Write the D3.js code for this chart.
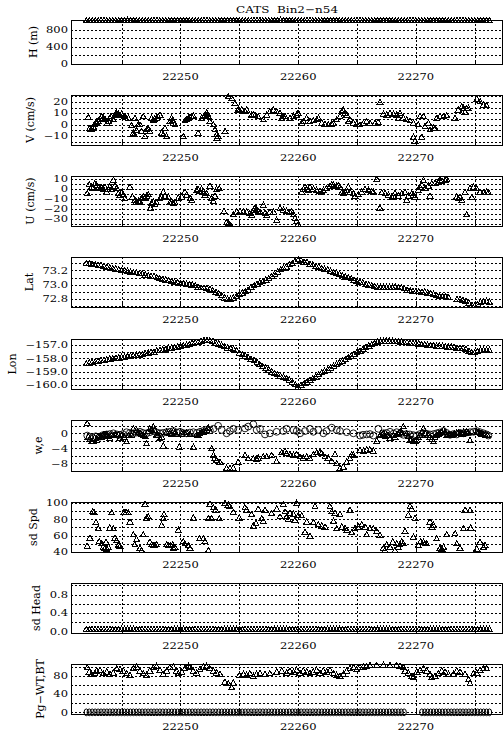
<!DOCTYPE html>
<html>
<head>
<meta charset="utf-8">
<script src="https://cdnjs.cloudflare.com/ajax/libs/d3/7.8.5/d3.min.js"></script>
<style>
  body { margin: 0; background: #fff; }
  text { font-family: "DejaVu Serif", serif; fill: #000; }
</style>
</head>
<body>
<div id="chart"></div>
<script>
// times are days after t0
const t0 = 22240;
const chartTitle = "CATS  Bin2\u2212n54";
const xTicks = [22250, 22260, 22270];
const xGrid = [22245, 22250, 22255, 22260, 22265, 22270, 22275];

// regular sampling used by the dense track panels
const tGrid = [2,2.25,2.5,2.75,3,3.25,3.5,3.75,
  4,4.25,4.5,4.75,5,5.25,5.5,5.75,
  6,6.25,6.5,6.75,7,7.25,7.5,7.75,
  8,8.25,8.5,8.75,9,9.25,9.5,9.75,
  10,10.25,10.5,10.75,11,11.25,11.5,11.75,
  12,12.25,12.5,12.75,13,13.25,13.5,13.75,
  14,14.25,14.5,14.75,15,15.25,15.5,15.75,
  16,16.25,16.5,16.75,17,17.25,17.5,17.75,
  18,18.25,18.5,18.75,19,19.25,19.5,19.75,
  20,20.25,20.5,20.75,21,21.25,21.5,21.75,
  22,22.25,22.5,22.75,23,23.25,23.5,23.75,
  24,24.25,24.5,24.75,25,25.25,25.5,25.75,
  26,26.25,26.5,26.75,27,27.25,27.5,27.75,
  28,28.25,28.5,28.75,29,29.25,29.5,29.75,
  30,30.25,30.5,30.75,31,31.25,31.5,31.75,
  32,32.25,32.5,32.75,33,33.25,33.5,33.75,
  34,34.25,34.5,34.75,35,35.25,35.5,35.75,
  36,36.25];

const hVals = [1018,1017,1019,1018,1016,1018,1019,1017,
  1018,1019,1017,1018,1018,1016,1018,1019,
  1017,1018,1019,1018,1017,1018,1016,1018,
  1019,1018,1017,1018,1019,1018,1017,1018,
  1018,1017,1019,1018,1016,1018,1019,1017,
  1018,1019,1017,1018,1018,1016,1018,1019,
  1017,1016,1018,1017,1016,1018,1017,1018,
  1018,1019,1017,1018,1019,1018,1017,1018,
  1018,1017,1019,1018,1016,1018,1019,1017,
  1018,1019,1017,1018,1018,1016,1018,1019,
  1017,1018,1019,1018,1017,1018,1016,1018,
  1019,1018,1017,1018,1019,1018,1017,1018,
  1018,1017,1019,1018,1016,1018,1019,1017,
  1018,1019,1017,1018,1018,1016,1018,1019,
  1017,1018,1019,1018,1017,1018,1016,1018,
  1019,1018,1017,1018,1016,1017,1018,1018,
  1018,1017,1019,1018,1016,1018,1019,1017,
  1018,1018];

const latVals = [73.30,73.30,73.29,73.28,73.27,73.27,73.26,73.25,
  73.24,73.23,73.22,73.21,73.20,73.20,73.19,73.18,
  73.17,73.17,73.16,73.16,73.14,73.13,73.12,73.12,
  73.10,73.09,73.08,73.07,73.06,73.05,73.04,73.03,
  73.02,73.02,73.01,73.01,73.00,72.99,72.97,72.96,
  72.96,72.95,72.94,72.92,72.90,72.88,72.85,72.82,
  72.80,72.80,72.82,72.84,72.87,72.89,72.91,72.93,
  72.97,72.99,73.01,73.03,73.05,73.07,73.09,73.12,
  73.15,73.18,73.21,73.23,73.25,73.28,73.30,73.33,
  73.35,73.34,73.32,73.31,73.29,73.28,73.26,73.25,
  73.23,73.22,73.21,73.19,73.17,73.16,73.15,73.13,
  73.11,73.10,73.09,73.07,73.05,73.04,73.03,73.01,
  73.00,72.99,72.98,72.97,72.97,72.97,72.97,72.97,
  72.97,72.97,72.96,72.96,72.95,72.93,72.92,72.91,
  72.91,72.91,72.90,72.90,72.89,72.88,72.87,72.85,
  72.84,72.84,72.84,72.83,null,null,72.80,72.80,
  72.79,72.77,72.75,72.72,72.71,72.73,72.76,72.77,
  72.77,72.76];

const lonVals = [-158.38,-158.33,-158.28,-158.24,-158.18,-158.15,-158.12,-158.08,
  -158.02,-158.00,-157.97,-157.95,-157.90,-157.88,-157.86,-157.83,
  -157.78,-157.75,-157.72,-157.70,-157.60,-157.57,-157.55,-157.50,
  -157.40,-157.38,-157.35,-157.30,-157.22,-157.20,-157.18,-157.12,
  -157.05,-157.04,-157.00,-156.95,-156.85,-156.80,-156.76,-156.70,
  -156.64,-156.62,-156.66,-156.70,-156.82,-156.90,-157.00,-157.10,
  -157.20,-157.25,-157.30,-157.40,-157.60,-157.70,-157.80,-157.90,
  -158.05,-158.15,-158.30,-158.45,-158.60,-158.70,-158.85,-159.00,
  -159.12,-159.20,-159.30,-159.40,-159.50,-159.60,-159.78,-159.95,
  -160.12,-160.00,-159.88,-159.75,-159.62,-159.50,-159.38,-159.20,
  -159.05,-158.95,-158.85,-158.70,-158.55,-158.43,-158.30,-158.18,
  -158.05,-157.92,-157.80,-157.68,-157.55,-157.42,-157.30,-157.15,
  -157.05,-156.95,-156.85,-156.75,-156.70,-156.68,-156.67,-156.68,
  -156.70,-156.70,-156.72,-156.75,-156.80,-156.80,-156.84,-156.86,
  -156.88,-156.90,-156.93,-156.96,-157.00,-157.02,-157.03,-157.05,
  -157.05,-157.08,-157.10,-157.12,-157.13,-157.15,-157.20,-157.20,
  -157.22,-157.30,-157.45,-157.55,-157.55,-157.45,-157.38,-157.38,
  -157.38,-157.38];

const sdHeadVals = [0.05,0.05,0.05,0.05,0.05,0.05,0.05,0.05, 0.05,0.05,0.05,0.05,0.05,0.05,0.05,0.05,
  0.05,0.05,0.05,0.05,0.05,0.05,0.05,0.05, 0.05,0.05,0.05,0.05,0.05,0.05,0.05,0.05,
  0.05,0.05,0.05,0.05,0.05,0.05,0.05,0.05, 0.05,0.05,0.05,0.05,0.05,0.05,0.05,0.05,
  0.05,0.05,0.05,0.05,0.05,0.05,0.05,0.05, 0.05,0.05,0.05,0.05,0.05,0.05,0.05,0.05,
  0.05,0.05,0.05,0.05,0.05,0.05,0.05,0.05, 0.05,0.05,0.05,0.05,0.05,0.05,0.05,0.05,
  0.05,0.05,0.05,0.05,0.05,0.05,0.05,0.05, 0.05,0.05,0.05,0.05,0.05,0.05,0.05,0.05,
  0.05,0.05,0.05,0.05,0.05,0.05,0.05,0.05, 0.05,0.05,0.05,0.05,0.05,0.05,0.05,0.05,
  0.05,0.05,0.05,0.05,0.05,0.05,0.05,0.05, 0.05,0.05,0.05,0.05,0.05,0.05,0.05,0.05,
  0.05,0.05,0.05,0.05,0.05,0.05,0.05,0.05, 0.05,0.05];

const pgBtVals = [0,0,0,0,0,0,0,0, 0,0,0,0,0,0,0,0, 0,0,0,0,0,0,0,0,
  0,0,0,0,0,0,0,0, 0,0,0,0,0,0,0,0, 0,0,0,0,0,0,0,0,
  0,0,0,0,0,0,0,0, 0,0,0,0,0,0,0,0, 0,0,0,0,0,0,0,0,
  0,0,0,0,0,0,0,0, 0,0,0,0,0,0,0,0, 0,0,0,0,0,0,0,0,
  0,0,0,0,0,0,0,0, 0,0,0,0,0,null,null,null,
  null,null,0,0,0,0,0,0, 0,0,0,0,0,0,0,0, 0,0,0,0,0,0,0,0,
  0,0];

// scattered series: [day after t0, value]
const vData = [[2.17,6.7],[2.3,-3],[2.4,-4],[2.5,-3.5],[2.6,-2],[2.68,0],[2.8,1.5],[2.88,2.3],[3.0,3],[3.1,4.4],
  [3.2,5],[3.3,7.3],[3.45,5.8],[3.58,5],[3.78,1.5],[3.9,3],[4.0,5.8],[4.1,7.3],[4.3,4.4],[4.43,8.7],
  [4.5,9.5],[4.58,10.2],[4.65,9],[4.72,9.3],[4.8,8.5],[4.86,8.1],[5.0,9.3],[5.1,8],[5.28,7.3],[5.57,5.8],
  [5.85,-0.6],[5.95,-8],[6.0,-7.3],[6.1,-8.7],[6.13,5.8],[6.27,-5.2],[6.42,0],[6.56,0],[6.7,-6],[6.84,7.3],
  [6.98,-10.2],[7.12,-4.4],[7.2,-3.5],[7.27,-3.5],[7.4,-5.8],[7.55,5.8],[7.69,3.8],[7.8,5],[7.97,5.8],[8.1,7],
  [8.26,8.7],[8.4,-7.3],[8.54,-8.7],[8.68,-3],[8.82,-10.2],[9.1,2.9],[9.25,5.8],[9.35,4],[9.4,1.5],[9.53,0],
  [10.24,-10.2],[10.38,3.5],[10.5,4.5],[10.67,5.8],[10.8,6.5],[10.95,7.3],[11.1,7.8],[11.5,-7.3],[11.8,5.8],[12.0,7.5],
  [12.08,8.7],[12.22,10.2],[12.3,9.5],[12.37,7.3],[12.5,2.9],[12.8,0],[12.93,-4.4],[13.07,-8.7],[13.2,-10.2],[13.12,-11.5],
  [13.78,-5.8],[14.06,24.7],[14.35,23.3],[14.63,18.9],[14.9,13.1],[15.0,12.5],[15.2,13.1],[15.48,12.2],[15.62,13.1],[16.05,8.7],
  [16.2,9],[16.33,8.1],[16.6,7.3],[17.04,4.4],[17.32,8.7],[17.6,11.6],[17.9,13.1],[18.17,11.6],[18.46,10.2],[18.6,5.8],
  [18.75,7],[18.88,7.3],[19.3,5.8],[19.6,7.3],[19.87,8.7],[20.0,10.2],[20.3,1.5],[20.44,2.9],[20.72,5.8],[21.0,2.9],
  [21.29,3.5],[21.57,4.4],[21.71,5.8],[22.0,1.5],[22.28,0.6],[22.56,0],[22.85,0.6],[23.0,1.5],[23.27,4.4],[23.55,7.3],
  [23.7,11.6],[23.84,13.1],[23.98,10.2],[24.12,8.7],[24.26,2.9],[24.4,4.4],[24.69,1.5],[24.97,0.6],[25.25,0],[25.54,1.5],
  [25.82,2.9],[26.1,1.5],[26.53,1.5],[26.8,2.3],[26.95,19.8],[27.24,9.3],[27.52,8.7],[27.8,10.2],[28.09,9.3],[28.37,8.7],
  [28.5,5.8],[28.65,10.2],[28.94,5.8],[29.22,4.4],[29.5,3.5],[29.79,1.5],[29.79,-11],[29.93,-14.5],[30.2,0],[30.35,7.3],
  [30.5,-11],[30.64,7.3],[30.78,-1.5],[31.06,1.5],[31.2,-4.4],[31.5,-2.9],[31.63,-2.9],[31.77,5.8],[32.05,7.3],[32.34,7.3],
  [32.62,8.1],[33.33,5.8],[33.6,13.1],[33.9,16],[34.04,14.5],[34.18,11],[34.32,14.5],[34.46,14.5],[35.17,22.7],[35.45,20.3],
  [35.74,17.4],[36.0,16.9]];

const uData = [[2.08,-4.3],[2.25,4.7],[2.45,2.3],[2.59,1.3],[2.73,5.7],[2.88,4],[3.02,1.3],[3.16,0.7],[3.3,1.3],[3.44,0],
  [3.58,2.3],[3.73,-2.7],[3.87,0],[4.0,2.3],[4.15,0],[4.3,9],[4.43,3.3],[4.58,1.3],[4.72,-4.3],[4.86,-6],
  [5.0,-3.3],[5.14,-5.3],[5.28,-9.3],[5.71,2.3],[5.93,-7.7],[6.13,-11],[6.27,-12.7],[6.42,-12],[6.56,-12.7],[6.7,-9.3],
  [6.84,-7.7],[6.98,-8.7],[7.12,-6.7],[7.27,-5.3],[7.46,-18.7],[7.55,-14.3],[7.69,-12.7],[7.83,-15.3],[7.97,-13.3],[8.26,-9.3],
  [8.4,-7.7],[8.54,-2.7],[8.68,-6.7],[8.97,-7.7],[9.1,-13.3],[9.25,-12.7],[9.4,-14.3],[9.53,-13.3],[9.82,-8.7],[10.1,-7.7],
  [10.38,-2.7],[10.52,-6],[10.81,-9.3],[10.95,-11],[11.37,-1],[11.5,0],[11.66,-2],[11.8,0],[11.94,-2.7],[12.08,-6],
  [12.22,-4.3],[12.5,3.3],[12.65,-9.3],[12.8,-12],[12.93,-6.7],[13.07,0],[13.3,0.7],[13.7,-22],[13.92,-33.3],[14.06,-34.3],
  [14.2,-35.3],[14.49,-25.3],[14.77,-22.7],[15.06,-22],[15.34,-22.7],[15.62,-22.7],[15.9,-24.3],[16.05,-26],[16.19,-21],[16.33,-19.3],
  [16.47,-20],[16.6,-22],[16.76,-22.7],[17.04,-16],[17.18,-24.3],[17.32,-26],[17.6,-22.7],[17.9,-22.7],[18.17,-31],[18.46,-19.3],
  [18.74,-21],[19.02,-22],[19.3,-22.7],[19.45,-22],[19.6,-25.3],[19.73,-29.3],[19.87,-32],[20.0,-35.3],[20.3,-2.7],[20.44,0],
  [20.58,2.3],[20.72,0],[20.86,-1],[21.0,2.3],[21.29,0],[21.57,-1],[21.86,-2],[22.0,-3.3],[22.14,-1],[22.42,0.7],
  [22.7,3.3],[22.85,4.7],[23.0,4],[23.27,3.3],[23.41,4],[23.55,2.3],[23.7,-3.3],[23.84,-4.3],[23.98,-2.7],[24.12,-1],
  [24.26,2.3],[24.4,-3.3],[24.69,-4.3],[24.83,-6.7],[25.11,-5.3],[25.4,-2.7],[25.68,0],[25.96,-1],[26.25,-2],[26.39,-2.7],
  [26.67,10],[26.95,-18.7],[27.1,-3.3],[27.38,-4.3],[27.66,-6],[27.95,-7.7],[28.09,-6.7],[28.23,-4.3],[28.5,-6.7],[28.8,-4.3],
  [29.08,-3.3],[29.22,-11],[29.36,-6.7],[29.65,-4.3],[29.79,-6],[29.93,-7.7],[30.2,-1],[30.35,2.3],[30.5,4],[30.64,9],
  [30.78,1.3],[31.06,3.3],[31.2,-6.7],[31.35,5.7],[31.63,5.7],[31.91,7.3],[32.05,9],[32.2,8],[32.48,9],[32.62,10],
  [33.47,-7.7],[33.6,-9.3],[33.75,-7.7],[33.9,-11],[34.18,-3.3],[34.32,-25.3],[34.6,0.7],[34.75,-8.3],[34.89,2.3],[35.17,0.7],
  [35.45,-2.7],[35.74,-3.3],[36.0,-2.7],[36.16,-3.3]];

const wData = [[2.08,2.7],[2.17,-0.9],[2.3,-1.5],[2.45,-2.2],[2.59,-2],[2.7,-1.2],[2.88,-1.8],[3.0,-0.8],[3.16,-0.6],[3.3,-1],
  [3.44,-0.3],[3.6,-0.2],[3.73,-0.4],[3.9,-0.8],[4.0,-1.3],[4.15,-0.5],[4.3,-0.6],[4.5,-0.2],[4.72,-0.3],[4.86,-1.2],
  [5.0,-0.6],[5.2,-0.9],[5.42,-2.2],[5.6,-0.5],[5.85,-0.4],[6.0,1.3],[6.27,0.9],[6.4,0.2],[6.56,0],[6.7,-0.3],
  [6.84,-0.6],[7.0,-0.8],[7.12,-2.7],[7.25,0.5],[7.4,1.3],[7.55,1],[7.69,1.8],[7.83,0.9],[7.97,-0.4],[8.1,-0.5],
  [8.26,-1.3],[8.4,-0.9],[8.54,-3.3],[8.82,0.4],[9.1,0],[9.25,-0.2],[9.4,0.6],[9.55,0.2],[9.67,-0.3],[9.9,-3.6],
  [10.1,-0.1],[10.3,0.2],[10.52,0.3],[10.8,-0.2],[11.1,-3.6],[11.37,-0.3],[11.5,-0.4],[11.66,0],[11.8,0.2],[11.94,0.4],
  [12.1,0.5],[12.22,0.9],[12.37,1.5],[12.65,-4],[12.8,-5.8],[12.93,-6.5],[13.07,-7.1],[13.36,-7.6],[13.92,-9.2],[14.2,-9.3],
  [14.49,-9.2],[14.9,-7.6],[15.48,-5.8],[15.76,-6.7],[16.19,-6.7],[16.47,-6.8],[16.6,-6.5],[17.04,-6.2],[17.32,-6.2],[17.75,-5.8],
  [18.17,-7.4],[18.6,-5.1],[18.88,-4.7],[19.02,-5.3],[19.3,-5.6],[19.6,-5.8],[19.87,-5.6],[20.16,-6.2],[20.44,-6.5],[20.72,-6.2],
  [21.0,-6.7],[21.29,-5.6],[21.57,-5.1],[21.86,-4.9],[22.0,-5.3],[22.28,-6.2],[22.56,-6.5],[22.85,-7.4],[23.13,-5.6],[23.27,-8],
  [23.55,-9.3],[23.84,-8.9],[24.12,-7.6],[24.4,-6.7],[24.55,-5.6],[24.69,-5.8],[25.25,-4.4],[25.54,-4.7],[25.82,-4.4],[26.1,-4.3],
  [26.39,-4.7],[26.67,-2],[26.95,-0.6],[27.0,-0.2],[27.24,0],[27.4,-0.8],[27.52,-0.4],[27.65,-0.5],[27.8,-1.3],[28.09,-0.6],
  [28.2,-0.9],[28.37,-0.3],[28.5,0],[28.65,0.4],[28.8,0.2],[28.94,1.8],[29.22,0],[29.35,-0.8],[29.5,-1.8],[29.65,-1.5],
  [29.79,-2.2],[29.95,-2],[30.07,-1.8],[30.2,-1],[30.35,-0.4],[30.5,0.5],[30.64,1.3],[30.78,0],[31.0,-0.4],[31.2,-0.9],
  [31.35,-1.5],[31.5,-2.2],[31.6,-1],[31.77,-0.6],[31.9,-0.3],[32.05,0],[32.2,0.3],[32.34,0.9],[32.5,0.2],[32.62,-0.6],
  [32.75,-0.2],[32.9,-0.4],[33.05,-0.5],[33.19,-0.3],[33.3,0],[33.47,0.3],[33.6,0.2],[33.75,0],[33.9,-0.1],[34.04,0.3],
  [34.2,0.1],[34.32,0.4],[34.45,0.2],[34.6,-1.8],[35.17,0.4],[35.3,0.2],[35.45,0],[35.6,-0.1],[35.74,-0.3],[35.9,-0.4],
  [36.1,-0.5]];

const eData = [[2.08,-0.6],[2.3,-1],[2.59,-1.3],[2.8,-0.8],[3.16,-0.9],[3.4,-0.5],[3.73,-0.3],[4.0,-0.2],[4.3,0],[4.6,-0.3],
  [4.86,-0.4],[5.1,-0.2],[5.42,0.3],[5.7,0.1],[6.0,0],[6.3,0.2],[6.56,0.4],[6.8,0.1],[7.12,0],[7.4,0.3],
  [7.69,0.6],[8.0,0.2],[8.26,0],[8.5,0.1],[8.82,0.3],[9.1,0.4],[9.4,0.6],[9.7,0.2],[9.96,0.4],[10.2,0.1],
  [10.52,0],[10.8,0.2],[11.1,0.3],[11.4,0.1],[11.66,0.4],[11.9,0.6],[12.22,0.9],[12.5,0.8],[12.8,1.2],[13.2,2],
  [13.5,0.9],[13.92,0],[14.2,0.6],[14.49,1.2],[14.9,0.9],[15.48,1.3],[15.76,1.8],[16.19,2.4],[16.47,0.9],[16.76,1.2],
  [17.18,-0.3],[17.6,0],[18.17,0.4],[18.74,0.6],[19.02,1.2],[19.6,0.9],[19.87,0.6],[20.16,0],[20.58,0.6],[21.0,1.2],
  [21.29,0.4],[21.71,0.9],[22.14,0],[22.42,0.6],[22.85,1.5],[23.27,0.9],[23.55,0.6],[24.12,0.3],[24.69,0],[25.25,-0.6],
  [25.5,-0.4],[25.82,-0.3],[26.1,-0.2],[26.39,-0.6],[26.81,1.2],[27.24,0],[27.5,0.1],[27.8,0.4],[28.1,-0.1],[28.37,0.3],
  [28.7,0],[28.94,-0.4],[29.2,-0.2],[29.5,-0.3],[29.8,-0.5],[30.07,-0.6],[30.35,-0.2],[30.64,0],[30.9,-0.1],[31.2,-0.3],
  [31.5,-0.2],[31.77,0],[32.0,0.2],[32.34,0.6],[32.6,0.1],[32.9,-0.4],[33.2,-0.2],[33.47,-0.3],[33.75,0.1],[34.04,0],
  [34.3,0.2],[34.6,0.3],[34.9,0.4],[35.17,0.6],[35.45,0.3],[35.74,0],[36.0,-0.3],[36.16,-0.6]];

const sdSpdData = [[2.08,47.4],[2.31,57.4],[2.54,89.6],[2.65,88.8],[2.82,76.4],[3.02,68.9],[3.1,53.2],[3.3,50.3],[3.44,46.2],[3.58,45],
  [3.67,52.4],[3.73,44.1],[3.87,46.2],[4.0,69.8],[4.15,88.3],[4.3,68.9],[4.43,57.4],[4.58,54.5],[4.72,48.3],[4.86,47.4],
  [5.2,88.8],[5.37,88.8],[5.57,88.3],[5.71,77.2],[6.0,61.5],[6.13,49.1],[6.27,55.7],[6.56,45],[6.7,42.1],[6.84,61.5],
  [6.98,98.7],[7.12,82.1],[7.27,83.4],[7.4,52.4],[7.55,49.1],[7.69,48.3],[7.83,48.3],[7.97,49.1],[8.4,73.1],[8.54,81.3],
  [8.6,86.3],[8.82,49.1],[8.97,48.3],[9.16,48.3],[9.33,49.1],[9.4,45],[9.53,46.2],[9.82,66.9],[10.24,53.2],[10.38,50.3],
  [10.67,48.3],[10.81,45],[11.1,82.1],[11.6,56.5],[11.94,56.5],[12.08,53.2],[12.37,42.1],[12.37,81.3],[12.5,98.7],[12.65,81.3],
  [12.8,94.5],[13.0,91.7],[13.3,81.3],[13.78,99.9],[14.06,97.9],[14.2,95.8],[14.49,88.8],[15.0,82.1],[15.48,94.5],[15.62,91.7],
  [16.05,86.3],[16.19,72.2],[16.42,75.1],[16.6,92.9],[16.9,81.3],[17.04,78],[17.18,91.7],[17.75,87.5],[18.17,92.9],[18.46,83.4],
  [18.74,98.7],[18.88,89.6],[19.02,83.4],[19.16,80.5],[19.3,87.5],[19.6,86.3],[19.73,79.3],[19.87,99.9],[20.0,84.6],[20.3,84.6],
  [20.58,64.8],[20.72,77.2],[21.0,59.8],[21.29,76.4],[21.43,95.8],[21.71,73.9],[22.0,72.2],[22.28,71],[22.7,95.8],[22.85,89.6],
  [23.0,78],[23.13,87.5],[23.27,68.9],[23.55,86.3],[23.7,71],[23.98,68.9],[24.12,66.9],[24.4,91.7],[24.55,64],[24.83,68.9],
  [25.11,71],[25.4,73.9],[25.68,71],[25.82,61.5],[26.1,68.9],[26.39,68.9],[26.67,65.6],[26.95,60.7],[27.24,45],[27.38,42.1],
  [27.52,49.1],[27.8,46.2],[28.03,52.4],[28.23,42.1],[28.37,50.3],[28.51,46.2],[28.65,49.1],[28.8,53.2],[28.94,50.3],[29.08,65.6],
  [29.36,85.5],[29.5,95.8],[29.65,92.9],[29.79,58.6],[29.93,81.3],[30.21,48.3],[30.41,53.2],[30.64,52.4],[30.78,50.3],[30.92,50.3],
  [31.2,77.2],[31.35,71],[31.5,73.1],[31.77,56.5],[32.05,45],[32.2,44.1],[32.34,46.2],[32.62,61.5],[33.33,62.7],[33.47,50.3],
  [33.75,45],[34.04,68.9],[34.18,91.7],[34.6,91.7],[34.66,69.8],[35.17,44.1],[35.45,52.4],[35.74,46.2],[35.88,48.3]];

const pgWtData = [[2.08,99.3],[2.25,89.7],[2.45,84.6],[2.73,86],[2.88,91.9],[3.16,93.4],[3.44,86],[3.73,89.7],[4.0,84.6],[4.3,87.5],
  [4.58,97.1],[4.86,94.9],[5.14,91.9],[5.42,86],[5.71,82.4],[6.0,97.1],[6.27,100.7],[6.56,91.9],[6.84,86],[7.12,82.4],
  [7.4,91.9],[7.69,99.3],[7.97,102.2],[8.26,93.4],[8.54,84.6],[8.82,91.9],[9.1,99.3],[9.4,100.7],[9.67,91.9],[9.82,86],
  [10.1,89.7],[10.38,97.1],[10.67,102.2],[10.81,100.7],[11.1,91.9],[11.37,87.5],[11.66,94.9],[11.94,100.7],[12.22,102.2],[12.5,97.1],
  [12.8,91.9],[13.07,87.5],[13.36,84.6],[13.78,67.6],[14.06,64],[14.35,55.1],[14.49,65.4],[15.0,82.4],[15.34,84.6],[15.62,82.4],
  [15.9,86],[16.19,80.1],[16.47,84.6],[16.76,86],[17.18,84.6],[17.6,86],[18.17,89.7],[18.6,91.9],[19.02,87.5],[19.3,91.9],
  [19.6,89.7],[19.87,93.4],[20.16,87.5],[20.44,91.9],[20.72,89.7],[21.0,86],[21.29,89.7],[21.57,93.4],[21.86,87.5],[22.14,91.9],
  [22.42,89.7],[22.7,93.4],[23.0,86],[23.27,82.4],[23.55,80.1],[23.84,84.6],[24.12,91.9],[24.4,97.1],[24.69,99.3],[24.97,94.9],
  [25.25,100.7],[25.54,100.7],[25.82,102.2],[26.1,104.4],[26.67,104.4],[27.24,104.4],[27.8,104.4],[28.37,104.4],[28.65,102.2],[28.94,99.3],
  [29.08,91.9],[29.36,87.5],[29.65,80.1],[29.79,77.2],[30.07,89.7],[30.35,93.4],[30.64,97.1],[30.92,91.9],[31.2,84.6],[31.35,77.2],
  [31.63,80.1],[31.91,86],[32.2,91.9],[32.48,89.7],[32.77,84.6],[33.19,84.6],[33.47,91.9],[33.75,89.7],[34.18,84.6],[34.46,72.8],
  [34.6,64],[34.89,86],[35.17,87.5],[35.45,93.4],[35.74,97.1],[36.0,97.1]];

// y axes: labelled ticks and dotted grid values
const hTicks = [0, 400, 800],            hGrid = [200, 400, 600, 800];
const vTicks = [-10, 0, 10, 20],         vGrid = [-15, -10, -5, 0, 5, 10, 15, 20, 25];
const uTicks = [-30, -20, -10, 0, 10],   uGrid = [-35, -30, -25, -20, -15, -10, -5, 0, 5, 10];
const latTicks = [72.8, 73.0, 73.2],     latGrid = [72.7, 72.8, 72.9, 73.0, 73.1, 73.2, 73.3];
const lonTicks = [-160, -159, -158, -157], lonGrid = [-160, -159.5, -159, -158.5, -158, -157.5, -157];
const weTicks = [-8, -4, 0],             weGrid = [-8, -6, -4, -2, 0, 2];
const spdTicks = [40, 60, 80, 100],      spdGrid = [50, 60, 70, 80, 90, 100];
const headTicks = [0.0, 0.4, 0.8],       headGrid = [0.2, 0.4, 0.6, 0.8, 1.0];
const pgTicks = [0, 40, 80],             pgGrid = [0, 20, 40, 60, 80, 100];

const pairs = (ts, vs) => ts.map((t, i) => [t, vs[i]]).filter(d => d[1] != null);

const panels = [
  { label: "H (m)", domain: [0, 1025], ticks: hTicks, grid: hGrid, fmt: "d",
    series: [{ data: pairs(tGrid, hVals), mark: "tri" }] },
  { label: "V (cm/s)", domain: [-18, 26], ticks: vTicks, grid: vGrid, fmt: "d",
    series: [{ data: vData, mark: "tri" }] },
  { label: "U (cm/s)", domain: [-37, 13], ticks: uTicks, grid: uGrid, fmt: "d",
    series: [{ data: uData, mark: "tri" }] },
  { label: "Lat", domain: [72.69, 73.385], ticks: latTicks, grid: latGrid, fmt: ".1f",
    series: [{ data: pairs(tGrid, latVals), mark: "tri" }] },
  { label: "Lon", domain: [-160.3, -156.55], ticks: lonTicks, grid: lonGrid, fmt: ".1f",
    series: [{ data: pairs(tGrid, lonVals), mark: "tri" }] },
  { label: "w,e", domain: [-10.05, 3.55], ticks: weTicks, grid: weGrid, fmt: "d",
    series: [{ data: eData, mark: "circ" }, { data: wData, mark: "tri" }] },
  { label: "sd Spd", domain: [40, 101.2], ticks: spdTicks, grid: spdGrid, fmt: "d",
    series: [{ data: sdSpdData, mark: "tri" }] },
  { label: "sd Head", domain: [-0.035, 1.05], ticks: headTicks, grid: headGrid, fmt: ".1f",
    series: [{ data: pairs(tGrid, sdHeadVals), mark: "tri" }] },
  { label: "Pg\u2212WT,BT", domain: [-3.7, 106.6], ticks: pgTicks, grid: pgGrid, fmt: "d",
    series: [{ data: pgWtData, mark: "tri" }, { data: pairs(tGrid, pgBtVals), mark: "oval" }] }
];

// Base layout
const w = 504, h = 736;
const left = 71, right = 503;
const tops = [20, 95, 176, 257, 339, 420, 502, 583, 664];
const heights = [44, 50, 50, 50, 50, 51, 50, 50, 50];
const squash = "scale(1,0.72)";   // wide, short glyphs like the plotting font

const x = d3.scaleLinear().domain([t0 + 0.7, t0 + 37.4]).range([left, right]);

const svg = d3.select("#chart").append("svg")
  .attr("width", w).attr("height", h)
  .style("background", "#fff");

svg.append("text")
  .attr("transform", `translate(${(left + right) / 2},13) scale(1,0.8)`)
  .attr("text-anchor", "middle")
  .style("font-size", "12px")
  .style("white-space", "pre")
  .text(chartTitle);

const triPath = "M0,-2.8L3,2.4L-3,2.4Z";

panels.forEach((p, i) => {
  const top = tops[i], bot = tops[i] + heights[i];
  const y = d3.scaleLinear().domain(p.domain).range([bot, top]);
  const g = svg.append("g");

  // dotted grid
  g.selectAll(".hg").data(p.grid).enter().append("line")
    .attr("x1", left).attr("x2", right)
    .attr("y1", d => Math.round(y(d)) + 0.5).attr("y2", d => Math.round(y(d)) + 0.5)
    .attr("stroke", "#000").attr("stroke-width", 1)
    .attr("stroke-dasharray", "2,2").attr("shape-rendering", "crispEdges");
  g.selectAll(".vg").data(xGrid).enter().append("line")
    .attr("x1", d => Math.round(x(d)) + 0.5).attr("x2", d => Math.round(x(d)) + 0.5)
    .attr("y1", top).attr("y2", bot)
    .attr("stroke", "#000").attr("stroke-width", 1)
    .attr("stroke-dasharray", "2,2").attr("shape-rendering", "crispEdges");
  // short solid ticks on the bottom edge
  g.selectAll(".vt").data(xGrid).enter().append("line")
    .attr("x1", d => Math.round(x(d)) + 0.5).attr("x2", d => Math.round(x(d)) + 0.5)
    .attr("y1", bot - 4).attr("y2", bot)
    .attr("stroke", "#000").attr("shape-rendering", "crispEdges");

  // box
  g.append("rect")
    .attr("x", left + 0.5).attr("y", top + 0.5)
    .attr("width", right - left - 1).attr("height", bot - top)
    .attr("fill", "none").attr("stroke", "#000").attr("stroke-width", 1.2)
    .attr("shape-rendering", "crispEdges");

  // y tick labels
  const fmt = d3.format(p.fmt);
  const yl = g.append("g");
  yl.selectAll("text").data(p.ticks).enter().append("text")
    .attr("transform", d => `translate(${left - 3},${y(d) + 3.3}) ${squash}`)
    .attr("text-anchor", "end")
    .style("font-size", "11.5px")
    .text(d => fmt(d));
  const bb = yl.node().getBBox();

  // y title
  const cy = (top + bot) / 2, cx = bb.x - 9.5;
  g.append("text")
    .attr("transform", `translate(${cx},${cy}) rotate(-90)`)
    .attr("text-anchor", "middle")
    .style("font-size", "11px")
    .text(p.label);

  // x tick labels
  g.selectAll(".xl").data(xTicks).enter().append("text")
    .attr("transform", d => `translate(${x(d)},${bot + 16}) ${squash}`)
    .attr("text-anchor", "middle")
    .style("font-size", "11.5px")
    .text(d => d);

  // markers
  p.series.forEach(s => {
    const sel = g.append("g").selectAll("path").data(s.data).enter();
    if (s.mark === "tri") {
      sel.append("path")
        .attr("d", triPath)
        .attr("transform", d => `translate(${x(t0 + d[0])},${y(d[1])})`)
        .attr("fill", "none").attr("stroke", "#000").attr("stroke-width", 1)
        .attr("shape-rendering", "crispEdges");
    } else if (s.mark === "circ") {
      sel.append("circle")
        .attr("cx", d => x(t0 + d[0])).attr("cy", d => y(d[1])).attr("r", 3.4)
        .attr("fill", "none").attr("stroke", "#000").attr("stroke-width", 0.9);
    } else {
      sel.append("ellipse")
        .attr("cx", d => x(t0 + d[0])).attr("cy", d => y(d[1]))
        .attr("rx", 2.2).attr("ry", 3.4)
        .attr("fill", "none").attr("stroke", "#000").attr("stroke-width", 1);
    }
  });
});
</script>
</body>
</html>
